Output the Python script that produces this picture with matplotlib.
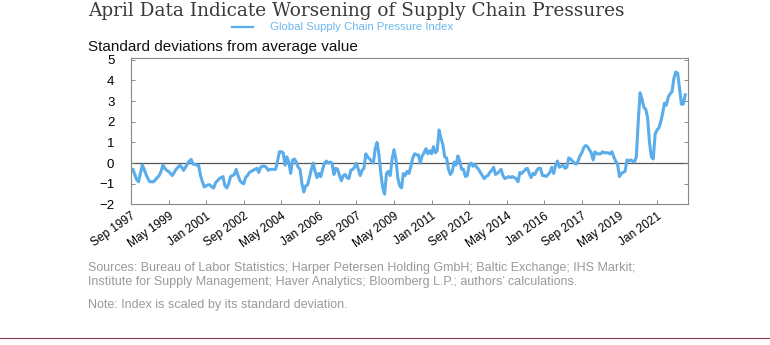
import numpy as np
import matplotlib
matplotlib.use("Agg")
import matplotlib.pyplot as plt

# Global Supply Chain Pressure Index, monthly, Sep 1997 .. Apr 2022
gscpi = [
    # Sep 1997 - Aug 1998
    -0.3, -0.3, -0.55, -0.8, -0.9, -0.5, -0.1, -0.3, -0.55, -0.75, -0.9, -0.9,
    # Sep 1998 - Aug 1999
    -0.9, -0.8, -0.7, -0.6, -0.4, -0.1, -0.25, -0.35, -0.4, -0.5, -0.6, -0.45,
    # Sep 1999 - Aug 2000
    -0.3, -0.2, -0.1, -0.2, -0.35, -0.2, -0.05, 0.1, 0.18, -0.05, -0.05, -0.1,
    # Sep 2000 - Aug 2001
    -0.1, -0.6, -0.9, -1.15, -1.1, -1.05, -1.05, -1.15, -1.2, -0.95, -0.85, -0.75,
    # Sep 2001 - Aug 2002
    -0.7, -0.65, -1.1, -1.2, -1.0, -0.65, -0.6, -0.55, -0.3, -0.6, -0.85, -0.95,
    # Sep 2002 - Aug 2003
    -1.0, -0.7, -0.6, -0.45, -0.4, -0.35, -0.3, -0.25, -0.45, -0.2, -0.15, -0.15,
    # Sep 2003 - Aug 2004
    -0.2, -0.35, -0.3, -0.3, -0.3, -0.3, 0.1, 0.55, 0.55, 0.5, -0.1, 0.3,
    # Sep 2004 - Aug 2005
    0.05, -0.5, 0.15, 0.2, 0.05, -0.2, -0.3, -1.0, -1.4, -1.1, -1.05, -0.7,
    # Sep 2005 - Aug 2006
    -0.3, 0.0, -0.4, -0.7, -0.5, -0.65, -0.3, 0.0, 0.1, 0.0, 0.05, 0.0,
    # Sep 2006 - Aug 2007
    -0.55, -0.25, -0.3, -0.6, -0.85, -0.6, -0.55, -0.7, -0.75, -0.35, -0.3, -0.2,
    # Sep 2007 - Aug 2008
    0.0, -0.3, -0.6, -0.35, -0.25, 0.45, 0.3, 0.2, 0.1, 0.0, 0.7, 1.0,
    # Sep 2008 - Aug 2009
    0.4, -0.5, -1.2, -1.5, -0.5, -0.4, -0.6, 0.2, 0.65, 0.2, -0.7, -1.1,
    # Sep 2009 - Aug 2010
    -1.2, -0.5, -0.6, -0.4, -0.5, -0.15, 0.25, 0.45, 0.4, 0.4, 0.0, 0.35,
    # Sep 2010 - Aug 2011
    0.5, 0.7, 0.45, 0.6, 0.45, 0.8, 0.5, 0.6, 1.6, 1.2, 0.9, 0.3,
    # Sep 2011 - Aug 2012
    0.25, -0.3, -0.55, -0.4, 0.05, -0.1, 0.35, 0.1, -0.3, -0.3, -0.65, -0.6,
    # Sep 2012 - Aug 2013
    -0.1, 0.0, -0.15, -0.05, -0.2, -0.3, -0.45, -0.6, -0.75, -0.65, -0.6, -0.45,
    # Sep 2013 - Aug 2014
    -0.35, -0.2, -0.55, -0.5, -0.4, -0.3, -0.6, -0.75, -0.7, -0.65, -0.7, -0.65,
    # Sep 2014 - Aug 2015
    -0.7, -0.75, -0.9, -0.45, -0.5, -0.4, -0.3, -0.25, -0.5, -0.7, -0.5, -0.55,
    # Sep 2015 - Aug 2016
    -0.35, -0.25, -0.25, -0.6, -0.6, -0.65, -0.55, -0.45, -0.2, -0.5, -0.1, 0.1,
    # Sep 2016 - Aug 2017
    -0.2, -0.15, -0.1, -0.25, -0.2, 0.25, 0.2, 0.1, 0.0, -0.05, 0.1, 0.35,
    # Sep 2017 - Aug 2018
    0.5, 0.75, 0.85, 0.8, 0.65, 0.5, 0.15, 0.55, 0.45, 0.45, 0.45, 0.55,
    # Sep 2018 - Aug 2019
    0.5, 0.5, 0.5, 0.45, 0.55, 0.3, 0.1, -0.05, -0.65, -0.5, -0.45, -0.4,
    # Sep 2019 - Aug 2020
    0.15, 0.1, 0.15, 0.1, 0.05, 0.3, 2.0, 3.4, 3.1, 2.7, 2.6, 2.2,
    # Sep 2020 - Aug 2021
    1.0, 0.3, 0.2, 1.4, 1.6, 1.7, 2.0, 2.4, 2.9, 2.8, 3.2, 3.35,
    # Sep 2021 - Apr 2022
    3.45, 4.1, 4.4, 4.35, 3.6, 2.85, 2.85, 3.3,
]

tick_months = list(range(0, 281, 20))
tick_labels = ["Sep 1997", "May 1999", "Jan 2001", "Sep 2002", "May 2004",
               "Jan 2006", "Sep 2007", "May 2009", "Jan 2011", "Sep 2012",
               "May 2014", "Jan 2016", "Sep 2017", "May 2019", "Jan 2021"]

sources = ("Sources: Bureau of Labor Statistics; Harper Petersen Holding GmbH; Baltic Exchange; IHS Markit;\n"
           "Institute for Supply Management; Haver Analytics; Bloomberg L.P.; authors\u2019 calculations.")
note = "Note: Index is scaled by its standard deviation."

blue = "#5AADEA"
grey_text = "#9a9a9a"

fig = plt.figure(figsize=(7.7, 3.45), dpi=100)
ax = fig.add_axes([131 / 770, 1 - 204.5 / 345, (688 - 131) / 770, (204.5 - 58) / 345])

months = np.arange(len(gscpi))
ax.axhline(0, color="#555555", lw=0.9, zorder=1)
ax.plot(months, gscpi, color=blue, lw=2.2, solid_joinstyle="round", zorder=2)

ax.set_xlim(0, 296.5)
ax.set_ylim(-2, 5.08)
ax.set_yticks(range(-2, 6))
ax.set_xticks(tick_months)
ax.set_xticklabels(tick_labels, rotation=35, ha="right", rotation_mode="anchor",
                   fontsize=8.6, family="Liberation Sans")
for lbl in ax.get_yticklabels():
    lbl.set_family("Liberation Sans")
    lbl.set_fontsize(9.5)
ax.tick_params(axis="both", direction="in", length=3, width=0.6, color="#777777")
ax.tick_params(axis="y", right=True, pad=12)
ax.tick_params(axis="x", pad=4)
for s in ax.spines.values():
    s.set_color("#888888")
    s.set_linewidth(0.8)

fig.text(88 / 770, 1 - 11 / 345, "April Data Indicate Worsening of Supply Chain Pressures",
         family="DejaVu Serif", fontsize=13.3, color="#3a3a3a", va="center", ha="left")
fig.add_artist(plt.Line2D([232 / 770, 253 / 770], [1 - 27 / 345] * 2, color=blue, lw=1.6))
fig.text(270 / 770, 1 - 27 / 345, "Global Supply Chain Pressure Index",
         family="Liberation Sans", fontsize=8.2, color="#6DB8EE", va="center", ha="left")
fig.text(88 / 770, 1 - 47 / 345, "Standard deviations from average value",
         family="Liberation Sans", fontsize=11, color="#111111", va="center", ha="left")

fig.text(88 / 770, 1 - 275 / 345, sources, family="Liberation Sans", fontsize=9,
         color=grey_text, va="center", ha="left", linespacing=1.3)
fig.text(88 / 770, 1 - 305 / 345, note, family="Liberation Sans", fontsize=9,
         color=grey_text, va="center", ha="left")

fig.add_artist(plt.Line2D([0, 1], [1 - 338 / 345] * 2, color="#8B3A5A", lw=0.8))

fig.savefig("out.png", dpi=100)
